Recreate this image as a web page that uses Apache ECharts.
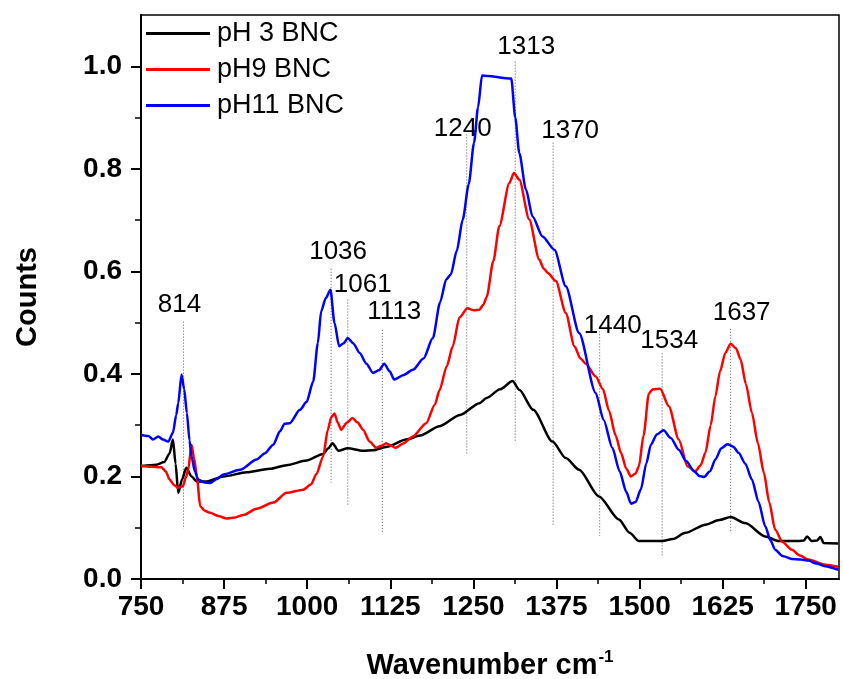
<!DOCTYPE html>
<html>
<head>
<meta charset="utf-8">
<title>Raman spectra of BNC</title>
<script src="https://cdn.jsdelivr.net/npm/echarts@6/dist/echarts.min.js"></script>
<style>
  html, body { margin: 0; padding: 0; background: #fff; }
  #chart { width: 843px; height: 679px; }
</style>
</head>
<body>
<div id="chart"></div>
<script>
// ---- spectra (wavenumber in cm^-1, intensity in counts) ----
const seriesNames = ['pH 3 BNC', 'pH9 BNC', 'pH11 BNC'];

const ph3Wavenumber = [750, 773, 785, 793, 798, 802, 806, 812, 818, 826, 834, 849, 874, 909, 944, 969, 999, 1024, 1032, 1038, 1047, 1061, 1084, 1099, 1120, 1149, 1170, 1199, 1230, 1259, 1270, 1290, 1309, 1319, 1340, 1369, 1389, 1409, 1439, 1469, 1485, 1499, 1534, 1550, 1569, 1599, 1620, 1637, 1659, 1689, 1709, 1739, 1747, 1752, 1759, 1767, 1772, 1777, 1799];
const ph3Counts = [0.220, 0.223, 0.228, 0.245, 0.272, 0.225, 0.168, 0.195, 0.217, 0.200, 0.190, 0.190, 0.200, 0.208, 0.215, 0.222, 0.231, 0.244, 0.255, 0.265, 0.250, 0.255, 0.250, 0.251, 0.258, 0.272, 0.280, 0.298, 0.320, 0.343, 0.353, 0.370, 0.386, 0.369, 0.330, 0.268, 0.236, 0.213, 0.161, 0.116, 0.090, 0.074, 0.074, 0.078, 0.090, 0.106, 0.115, 0.121, 0.109, 0.083, 0.074, 0.074, 0.075, 0.083, 0.074, 0.075, 0.082, 0.070, 0.069];

const ph9Wavenumber = [750, 765, 781, 787, 793, 800, 806, 813, 818, 821, 826, 830, 834, 839, 846, 854, 866, 879, 891, 904, 924, 949, 969, 994, 1006, 1014, 1024, 1031, 1036, 1041, 1046, 1051, 1060, 1068, 1076, 1084, 1094, 1104, 1112, 1119, 1126, 1133, 1145, 1159, 1179, 1192, 1199, 1210, 1219, 1229, 1241, 1251, 1259, 1265, 1270, 1280, 1289, 1304, 1311, 1319, 1334, 1349, 1356, 1362, 1374, 1389, 1402, 1411, 1419, 1434, 1445, 1454, 1464, 1472, 1480, 1487, 1494, 1499, 1506, 1514, 1520, 1531, 1544, 1559, 1572, 1584, 1592, 1599, 1607, 1614, 1621, 1629, 1637, 1645, 1652, 1660, 1669, 1678, 1687, 1695, 1704, 1715, 1729, 1741, 1754, 1779, 1799];
const ph9Counts = [0.221, 0.219, 0.218, 0.210, 0.194, 0.183, 0.178, 0.181, 0.200, 0.213, 0.262, 0.235, 0.200, 0.142, 0.133, 0.129, 0.123, 0.118, 0.120, 0.125, 0.137, 0.149, 0.168, 0.174, 0.185, 0.205, 0.239, 0.291, 0.315, 0.323, 0.305, 0.291, 0.305, 0.314, 0.305, 0.291, 0.268, 0.256, 0.260, 0.265, 0.260, 0.256, 0.265, 0.278, 0.304, 0.340, 0.368, 0.415, 0.454, 0.510, 0.528, 0.524, 0.525, 0.535, 0.550, 0.620, 0.688, 0.772, 0.792, 0.779, 0.701, 0.623, 0.605, 0.597, 0.581, 0.519, 0.454, 0.430, 0.420, 0.395, 0.370, 0.328, 0.280, 0.246, 0.215, 0.200, 0.206, 0.220, 0.280, 0.362, 0.370, 0.371, 0.337, 0.272, 0.220, 0.210, 0.222, 0.246, 0.300, 0.356, 0.405, 0.441, 0.459, 0.450, 0.428, 0.380, 0.324, 0.265, 0.207, 0.150, 0.096, 0.072, 0.057, 0.046, 0.038, 0.028, 0.024];

const ph11Wavenumber = [750, 761, 768, 776, 783, 791, 798, 803, 806, 811, 815, 819, 823, 826, 831, 836, 846, 854, 864, 874, 899, 924, 936, 949, 959, 966, 974, 989, 999, 1009, 1016, 1021, 1028, 1035, 1041, 1048, 1055, 1061, 1069, 1079, 1089, 1099, 1108, 1116, 1124, 1131, 1145, 1159, 1175, 1189, 1200, 1209, 1216, 1225, 1234, 1243, 1251, 1257, 1263, 1307, 1313, 1319, 1329, 1339, 1354, 1372, 1389, 1409, 1434, 1446, 1459, 1470, 1480, 1487, 1494, 1502, 1510, 1517, 1526, 1536, 1547, 1559, 1570, 1582, 1590, 1597, 1606, 1614, 1623, 1632, 1641, 1649, 1659, 1669, 1679, 1689, 1697, 1704, 1715, 1729, 1742, 1754, 1766, 1779, 1799];
const ph11Counts = [0.281, 0.279, 0.272, 0.278, 0.272, 0.268, 0.285, 0.320, 0.343, 0.399, 0.370, 0.324, 0.270, 0.239, 0.210, 0.194, 0.188, 0.187, 0.195, 0.204, 0.213, 0.233, 0.245, 0.262, 0.288, 0.303, 0.304, 0.330, 0.345, 0.385, 0.460, 0.522, 0.548, 0.564, 0.500, 0.454, 0.460, 0.470, 0.460, 0.441, 0.420, 0.402, 0.407, 0.420, 0.405, 0.389, 0.398, 0.408, 0.430, 0.470, 0.540, 0.584, 0.594, 0.640, 0.701, 0.770, 0.851, 0.920, 0.982, 0.976, 0.900, 0.831, 0.760, 0.707, 0.668, 0.642, 0.571, 0.480, 0.363, 0.310, 0.256, 0.210, 0.170, 0.147, 0.150, 0.175, 0.225, 0.262, 0.282, 0.290, 0.275, 0.252, 0.230, 0.210, 0.201, 0.199, 0.210, 0.233, 0.255, 0.263, 0.258, 0.246, 0.225, 0.194, 0.150, 0.103, 0.075, 0.057, 0.045, 0.039, 0.038, 0.036, 0.030, 0.025, 0.018];

// ---- assigned band positions and the extent of their dotted guides ----
const peakWavenumber = [814, 1036, 1061, 1113, 1240, 1313, 1370, 1440, 1534, 1637];
const peakGuideTop = [0.502, 0.605, 0.545, 0.486, 0.867, 1.009, 0.851, 0.483, 0.440, 0.488];
const peakGuideBottom = [0.098, 0.188, 0.143, 0.092, 0.243, 0.268, 0.102, 0.084, 0.042, 0.090];

// ---- axis ticks ----
const xTicks = [750, 875, 1000, 1125, 1250, 1375, 1500, 1625, 1750];
const yTicks = [0.0, 0.2, 0.4, 0.6, 0.8, 1.0];

// label placement relative to the top of each guide (px)
const peakLabelShift = [[-4, -17], [7, -17], [15, -15], [12, -18], [-4, -6], [11, -15], [17, -12], [13, -6], [7, -13], [11, -16]];

const colors = ['#000000', '#ff0000', '#0000ff'];
const FONT = '"Liberation Sans", Arial, Helvetica, sans-serif';

function zip(xs, ys) { return xs.map((x, i) => [x, ys[i]]); }

const spectra = [
  zip(ph3Wavenumber, ph3Counts),
  zip(ph9Wavenumber, ph9Counts),
  zip(ph11Wavenumber, ph11Counts)
];

const chart = echarts.init(document.getElementById('chart'), null, { renderer: 'canvas' });

const lineSeries = spectra.map((d, i) => ({
  name: seriesNames[i],
  type: 'line',
  data: d,
  showSymbol: false,
  smooth: 0.25,
  smoothMonotone: 'x',
  lineStyle: { color: colors[i], width: 2.5 },
  itemStyle: { color: colors[i] },
  z: 3 + i,
  animation: false
}));

const guideSeries = {
  type: 'custom',
  data: peakWavenumber.map((w, i) => [w, peakGuideTop[i], peakGuideBottom[i]]),
  encode: { x: 0, y: [1, 2] },
  z: 2,
  silent: true,
  animation: false,
  renderItem(params, api) {
    const w = api.value(0);
    const p1 = api.coord([w, api.value(1)]);
    const p2 = api.coord([w, api.value(2)]);
    const s = peakLabelShift[params.dataIndex];
    return {
      type: 'group',
      children: [
        {
          type: 'line',
          shape: { x1: p1[0], y1: p1[1], x2: p2[0], y2: p2[1] },
          style: { stroke: '#555', lineWidth: 1, lineDash: [1, 2] }
        },
        {
          type: 'text',
          x: p1[0] + s[0],
          y: p1[1] + s[1],
          style: {
            text: String(w),
            textAlign: 'center',
            textVerticalAlign: 'middle',
            font: '26px ' + FONT,
            fill: '#000'
          }
        }
      ]
    };
  }
};

chart.setOption({
  backgroundColor: '#fff',
  animation: false,
  textStyle: { fontFamily: FONT },
  grid: {
    left: 141, right: 4, top: 15, bottom: 100,
    containLabel: false,
    outerBoundsMode: 'none',
    show: true, borderColor: '#000', borderWidth: 1.5, backgroundColor: 'transparent'
  },
  legend: {
    data: seriesNames,
    orient: 'vertical',
    left: 141,
    top: 15,
    itemWidth: 64,
    itemHeight: 3,
    itemGap: 9,
    icon: 'rect',
    selectedMode: false,
    textStyle: { fontSize: 27, color: '#000', fontFamily: FONT, lineHeight: 24, padding: [0, 0, 0, 2] }
  },
  xAxis: {
    type: 'value',
    min: 750,
    max: 1800,
    interval: 125,
    name: 'Wavenumber cm{sup|-1}',
    nameLocation: 'middle',
    nameGap: 70,
    nameTextStyle: {
      fontSize: 29, fontWeight: 'bold', color: '#000', fontFamily: FONT,
      rich: { sup: { fontSize: 17, fontWeight: 'bold', verticalAlign: 'top', padding: [0, 0, 16, 1], color: '#000', fontFamily: FONT } }
    },
    axisLine: { onZero: false, lineStyle: { color: '#000', width: 2 } },
    axisTick: { show: true, inside: false, length: 10, lineStyle: { color: '#000', width: 2 }, customValues: xTicks },
    minorTick: { show: true, splitNumber: 2, length: 5, lineStyle: { color: '#000', width: 1.5 } },
    axisLabel: {
      customValues: xTicks,
      margin: 14,
      fontSize: 28,
      fontWeight: 'bold',
      color: '#000',
      fontFamily: FONT,
      formatter: v => String(v)
    },
    splitLine: { show: false },
    minorSplitLine: { show: false }
  },
  yAxis: {
    type: 'value',
    min: 0,
    max: 1.1,
    interval: 0.2,
    name: 'Counts',
    nameLocation: 'middle',
    nameGap: 99,
    nameRotate: 90,
    nameTextStyle: { fontSize: 29, fontWeight: 'bold', color: '#000', fontFamily: FONT },
    axisLine: { onZero: false, lineStyle: { color: '#000', width: 2 } },
    axisTick: { show: true, inside: false, length: 10, lineStyle: { color: '#000', width: 2 }, customValues: yTicks },
    minorTick: { show: true, splitNumber: 2, length: 6, lineStyle: { color: '#000', width: 1.5 } },
    axisLabel: {
      customValues: yTicks,
      margin: 19,
      fontSize: 28,
      fontWeight: 'bold',
      color: '#000',
      fontFamily: FONT,
      formatter: v => v.toFixed(1)
    },
    splitLine: { show: false },
    minorSplitLine: { show: false }
  },
  series: [guideSeries].concat(lineSeries)
});
</script>
</body>
</html>
